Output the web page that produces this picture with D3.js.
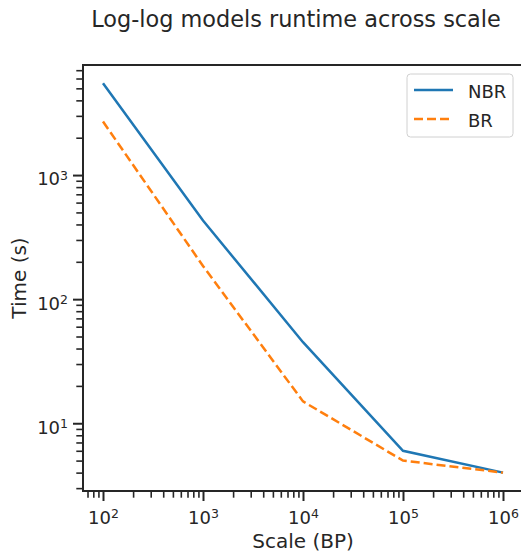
<!DOCTYPE html>
<html>
<head>
<meta charset="utf-8">
<script src="https://cdn.jsdelivr.net/npm/d3@7.9.0/dist/d3.min.js"></script>
<style>
  body { margin: 0; background: #fff; }
  svg { display: block; font-family: "DejaVu Sans", sans-serif; }
</style>
</head>
<body>
<div id="chart"></div>
<script>
const scales = [1e2, 1e3, 1e4, 1e5, 1e6];
const nbrTimes = [5500, 430, 45, 6.0, 4.0];
const brTimes = [2700, 185, 15, 5.0, 4.0];
const seriesNames = ['NBR', 'BR'];
const xMajor = [1e2, 1e3, 1e4, 1e5, 1e6];
const yMajor = [1e1, 1e2, 1e3];

const width = 521, height = 552;
const ink = '#262626';
const colors = { NBR: '#1f77b4', BR: '#ff7f0e' };

const svg = d3.select('#chart').append('svg')
  .attr('width', width).attr('height', height);

// plot area (right side runs past the picture edge, like the original crop)
const area = { left: 83, right: 523, top: 65, bottom: 491 };

const x = d3.scaleLog()
  .domain([Math.pow(10, 1.8), Math.pow(10, 6.2)])
  .range([area.left, area.right]);

const y = d3.scaleLog()
  .domain([Math.pow(10, 0.454), Math.pow(10, 3.887)])
  .range([area.bottom, area.top]);

function minorTicks(scale) {
  const [a, b] = scale.domain();
  const out = [];
  for (let e = Math.floor(Math.log10(a)); e <= Math.ceil(Math.log10(b)); e++) {
    for (let m = 2; m <= 9; m++) {
      const v = m * Math.pow(10, e);
      if (v >= a && v <= b) out.push(v);
    }
  }
  return out;
}

function styleAxis(g, w) {
  g.select('.domain').remove();
  g.selectAll('.tick line').attr('stroke', ink).attr('stroke-width', w);
}

function powLabels(g) {
  g.selectAll('.tick text').each(function (d) {
    const t = d3.select(this).text('');
    t.append('tspan').text('10');
    t.append('tspan').attr('dy', '-0.45em').attr('font-size', '12.5px')
      .text(Math.round(Math.log10(d)));
  });
}

// x axis
svg.append('g')
  .attr('transform', `translate(0,${area.bottom})`)
  .call(d3.axisBottom(x).tickValues(minorTicks(x)).tickSize(6.7).tickFormat(''))
  .call(g => styleAxis(g, 1.6));

svg.append('g')
  .attr('transform', `translate(0,${area.bottom})`)
  .call(d3.axisBottom(x).tickValues(xMajor).tickSize(10).tickPadding(6).tickFormat(''))
  .call(g => styleAxis(g, 2))
  .call(powLabels)
  .call(g => g.selectAll('.tick text')
    .attr('fill', ink).attr('font-size', '18px').attr('dy', '0.95em')
    .attr('font-family', '"DejaVu Sans", sans-serif'));

// y axis
svg.append('g')
  .attr('transform', `translate(${area.left},0)`)
  .call(d3.axisLeft(y).tickValues(minorTicks(y)).tickSize(6.7).tickFormat(''))
  .call(g => styleAxis(g, 1.6));

svg.append('g')
  .attr('transform', `translate(${area.left},0)`)
  .call(d3.axisLeft(y).tickValues(yMajor).tickSize(10).tickPadding(5).tickFormat(''))
  .call(g => styleAxis(g, 2))
  .call(powLabels)
  .call(g => g.selectAll('.tick text')
    .attr('fill', ink).attr('font-size', '18px').attr('dy', '0.55em')
    .attr('font-family', '"DejaVu Sans", sans-serif'));

// spines: left, bottom, top (right is cut off)
const spines = svg.append('g').attr('stroke', ink).attr('stroke-width', 2).attr('fill', 'none');
spines.append('path')
  .attr('d', `M${area.right},${area.top}H${area.left}V${area.bottom}H${area.right}`);

// lines
const series = [
  { name: 'NBR', values: nbrTimes, dash: null },
  { name: 'BR', values: brTimes, dash: '9,4' },
];

const line = d3.line()
  .x((d, i) => x(scales[i]))
  .y(d => y(d));

svg.append('g').selectAll('path')
  .data(series)
  .join('path')
  .attr('d', d => line(d.values))
  .attr('fill', 'none')
  .attr('stroke', d => colors[d.name])
  .attr('stroke-width', 2.5)
  .attr('stroke-dasharray', d => d.dash);

// legend
const legend = svg.append('g').attr('transform', 'translate(407,74)');
legend.append('rect')
  .attr('width', 106).attr('height', 63).attr('rx', 3.5)
  .attr('fill', '#fff').attr('fill-opacity', 0.8)
  .attr('stroke', '#d0d0d0').attr('stroke-width', 1);

seriesNames.forEach((name, i) => {
  const s = series.find(d => d.name === name);
  const ly = 16 + i * 29;
  legend.append('line')
    .attr('x1', 7).attr('x2', 46).attr('y1', ly).attr('y2', ly)
    .attr('stroke', colors[name]).attr('stroke-width', 2.5)
    .attr('stroke-dasharray', s.dash);
  legend.append('text')
    .attr('x', 61).attr('y', ly + 7.5)
    .attr('fill', ink).attr('font-size', '18px')
    .text(name);
});

// labels
svg.append('text')
  .attr('x', 296).attr('y', 27)
  .attr('text-anchor', 'middle')
  .attr('fill', ink).attr('font-size', '22.4px')
  .text('Log-log models runtime across scale');

svg.append('text')
  .attr('x', 303).attr('y', 548)
  .attr('text-anchor', 'middle')
  .attr('fill', ink).attr('font-size', '20px')
  .text('Scale (BP)');

svg.append('text')
  .attr('transform', `translate(26,${(area.top + area.bottom) / 2}) rotate(-90)`)
  .attr('text-anchor', 'middle')
  .attr('fill', ink).attr('font-size', '20px')
  .text('Time (s)');
</script>
</body>
</html>
